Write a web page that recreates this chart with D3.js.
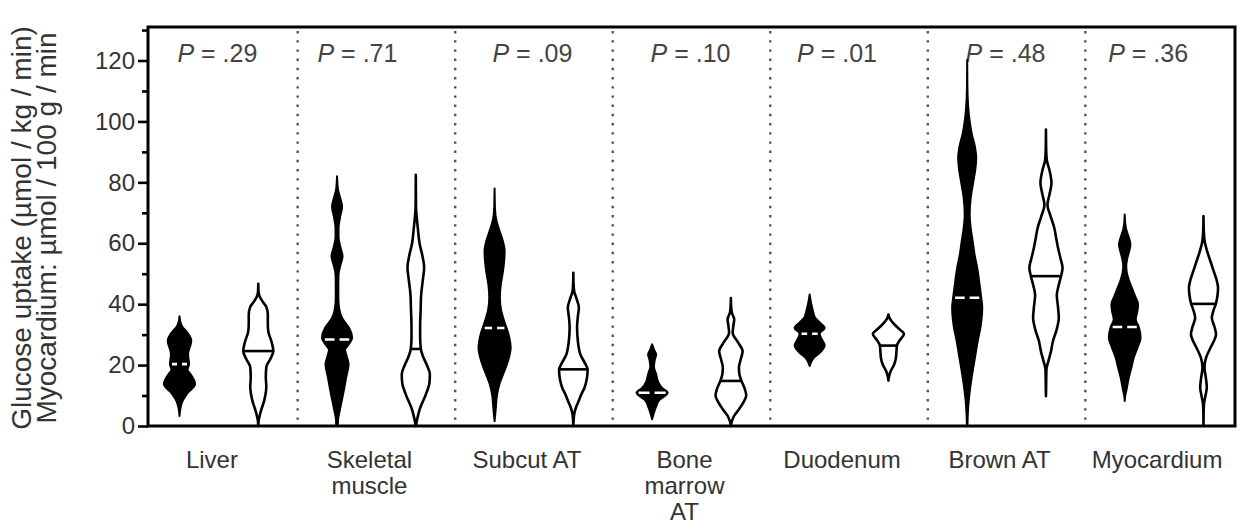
<!DOCTYPE html>
<html>
<head>
<meta charset="utf-8">
<script src="https://cdn.jsdelivr.net/npm/d3@7/dist/d3.min.js"></script>
<style>
    body { margin: 0; background: #ffffff; }
    svg text { font-family: "Liberation Sans", Arial, sans-serif; }
</style>
</head>
<body>
<svg id="my_svg_element" width="1238" height="527"></svg>

<script>
// ---------------------------  DATA  ---------------------------

const organs = ["Liver", "Skeletal muscle", "Subcut AT", "Bone marrow AT", "Duodenum", "Brown AT", "Myocardium"];
const p_values = [".29", ".71", ".09", ".10", ".01", ".48", ".36"];
const series = ["filled", "open"];

// medians (µmol / kg / min)
const medians_filled = [20.3, 28.4, 32.2, 10.9, 30.3, 42.1, 32.5];
const medians_open   = [24.6, 25.3, 18.6, 14.8, 26.4, 49.2, 40.1];

// violin outlines: [uptake value, relative density]
const density_filled = [
    [[3.3,0],[6,1],[8.2,3],[10.4,7],[13.8,15.5],[17,11],[18.5,8],[20.3,9.5],[23.6,8.5],[28,11.7],[31,7],[32.5,3],[34,1],[36,0]],
    [[0,0.8],[2,1],[5.6,3],[10.4,6],[15.8,9],[20.2,11.5],[23,9.5],[25,8],[27,12],[29,15],[32.2,12],[34,8],[35.5,5],[38.8,2],[42,1.3],[46,1.3],[49.7,1.5],[53,3.5],[55.7,5.5],[58.5,3.5],[62,1.5],[65,1.5],[68.5,3],[72.1,5],[75,3],[77.5,1],[80,0.3],[82,0]],
    [[1.6,0],[5,1],[10.4,2.5],[14,5],[17,8.5],[21,13],[25.7,16],[30,14],[34,10],[38,6.5],[42,5.3],[46,6],[50,8],[54,9.5],[57.4,10],[61,8],[65,4],[68,1.5],[71,0.5],[78,0]],
    [[2.2,0],[4,1.5],[6,3.5],[8.5,7],[10.9,15.5],[12.5,10],[14.5,6],[17,4],[19.5,1.8],[21.5,2.5],[23.5,4],[25,2],[26.8,0]],
    [[19.7,0],[21,1.5],[22.4,4],[24,10],[26.5,15],[28.5,12],[30.3,10],[32.2,15],[34,10],[35.5,5.5],[37.5,3.5],[39.5,2],[41.5,0.8],[43.2,0]],
    [[0,0.3],[3,0.5],[8.2,1.5],[12.5,3],[17,5],[22,7.5],[27.9,10.5],[33,13.5],[38.8,15],[42.1,14],[46,12.5],[51.9,10],[56,7.5],[60.6,5.5],[65,3.5],[69.4,2.5],[74.9,3.5],[80,6],[84,8],[88,9],[92,7.5],[96,4.5],[100,2.5],[104,1.2],[107,0.6],[112,0.2],[120.2,0]],
    [[8.2,0],[10,0.5],[11.5,1.5],[15.8,4],[19,6.5],[22.4,9],[26,13],[29,15.8],[32.5,14],[35,11],[37.5,12.5],[39.9,13.3],[42.5,10.5],[45.4,7],[48,4],[50.5,2],[52.5,1.5],[55,2.5],[57.5,4.5],[59.6,5.7],[62,4],[64.5,1.5],[66.5,0.5],[69.4,0]]
];

const density_open = [
    [[0,0],[2,0.5],[4.2,2],[8.5,6],[12.9,8],[16,7.5],[19.4,8],[22,12],[24.6,15],[27.9,13],[31,10],[33.6,9.5],[36.5,9.5],[39.1,8],[41,4],[42.4,1.5],[44,0.3],[46.7,0]],
    [[0,0],[2.5,1.5],[5.6,4],[10.4,10],[14,13.5],[17,14],[20,11],[23,7],[25.3,5],[29,4.3],[33,4.3],[38,4.8],[43,5.3],[48,7],[52,8.3],[56,6.5],[60,3.7],[65,2],[69,0.8],[72,0.2],[82.5,0]],
    [[0,0],[2,0.3],[3.8,0.8],[6,2.5],[8,5],[10.4,8],[12.5,11],[14.8,13],[17,14],[18.6,14.2],[20,12.5],[23.5,7],[27.9,4.5],[32.3,3.7],[36,4.5],[38.9,5.5],[41.5,3.5],[44.3,0.8],[47,0.2],[50.3,0]],
    [[0,0],[1.6,1],[3.5,3.5],[5,7],[7.5,12],[10,15.3],[12.5,13.5],[14.8,10.5],[17,8.5],[19.2,8],[21.5,9.5],[24.6,11.7],[27.5,7],[30.6,1.8],[33,2.5],[35,3.3],[37.2,1],[39,0.3],[42,0]],
    [[14.9,0],[16.5,0.8],[18.2,2.5],[20,5.5],[22.4,7.5],[24.5,8],[26.4,8.5],[28,11],[30.3,15.5],[31.5,12],[33,7],[34.5,3],[35.5,1],[36.6,0]],
    [[9.8,0],[14,0.2],[18.6,0.5],[21.4,2.5],[24.5,5],[27.9,7],[31.5,10.5],[35.5,12.8],[39,12],[43,10.8],[46,12.5],[49.2,15],[51.9,16.5],[55,14.5],[58.5,12],[62,10],[65,8.3],[69,4.5],[72.6,1.5],[76,3.5],[79.8,5.5],[84,3.5],[87.4,0.8],[91,0.2],[97.3,0]],
    [[0,0],[4,0.1],[7.2,0.5],[10,2],[12.6,3.3],[15.5,2.5],[19.2,1],[22.4,2.5],[25.7,7],[28,10.5],[30.1,12.5],[32.5,11],[35.5,8.3],[38,10],[40.1,12.3],[43,14],[45.4,14.5],[48,13],[51,10],[54,7],[57,4],[60.6,1.2],[64,0.3],[68.9,0]]
];

const major_ticks = [0, 20, 40, 60, 80, 100, 120];
const minor_ticks = [10, 30, 50, 70, 90, 110, 130];

// where GraphPad put each "P = " label, relative to the organ centre (px)
const p_label_shift = [-1.5, -19, -1.5, -1, -12, -1, -16];

// ---------------------------  LAYOUT  ---------------------------

const margins = { left: 148, right: 3, top: 27, bottom: 101 };
const outer_width = 1238, outer_height = 527;
const width = outer_width - margins.left - margins.right;
const height = outer_height - margins.top - margins.bottom;

const table = organs.map((organ, i) => ({
    organ: organ,
    p: p_values[i],
    shift: p_label_shift[i],
    violins: [
        { series: "filled", profile: density_filled[i], median: medians_filled[i] },
        { series: "open",   profile: density_open[i],   median: medians_open[i] }
    ]
}));

// ---------------------------  SCALES  ---------------------------

const x_group = d3.scalePoint()
    .domain(organs)
    .range([0, width])
    .padding(0.45);

const x_series = d3.scalePoint()
    .domain(series)
    .range([-x_group.step() / 4, x_group.step() / 4]);

const y_scale = d3.scaleLinear()
    .domain([0, 131])
    .range([height, 0]);

// density -> half width in px
const w_scale = d3.scaleLinear()
    .domain([0, 16])
    .range([0, x_group.step() * 0.102]);

// linear lookup of the outline at a given value
function density_at(profile, v) {
    const i = d3.bisector(d => d[0]).left(profile, v);
    if (i <= 0) return profile[0][1];
    if (i >= profile.length) return profile[profile.length - 1][1];
    const a = profile[i - 1], b = profile[i];
    return a[1] + (v - a[0]) / (b[0] - a[0]) * (b[1] - a[1]);
}

const violin_area = d3.area()
    .y(d => y_scale(d[0]))
    .x0(d => -w_scale(d[1]))
    .x1(d => w_scale(d[1]))
    .curve(d3.curveMonotoneY);

// ---------------------------  DRAW  ---------------------------

const svg = d3.select("#my_svg_element");
const chart = svg.append("g")
    .attr("transform", `translate(${margins.left},${margins.top})`);

// dotted separators between organs
chart.selectAll(".sep")
    .data(organs.slice(1))
    .join("line")
    .attr("class", "sep")
    .attr("x1", d => x_group(d) - x_group.step() / 2)
    .attr("x2", d => x_group(d) - x_group.step() / 2)
    .attr("y1", 4)
    .attr("y2", height)
    .attr("stroke", "#555")
    .attr("stroke-width", 2.4)
    .attr("stroke-dasharray", "2.4 6.8");

// P labels
chart.selectAll(".p-label")
    .data(table)
    .join("text")
    .attr("class", "p-label")
    .attr("x", d => x_group(d.organ) + d.shift)
    .attr("y", 35)
    .attr("text-anchor", "middle")
    .attr("font-size", 25)
    .attr("fill", "#444")
    .each(function(d) {
        const t = d3.select(this);
        t.append("tspan").attr("font-style", "italic").text("P");
        t.append("tspan").text(" = " + d.p);
    });

// violins
const groups = chart.selectAll(".organ")
    .data(table)
    .join("g")
    .attr("class", "organ")
    .attr("transform", d => `translate(${x_group(d.organ)},0)`);

const violins = groups.selectAll(".violin")
    .data(d => d.violins)
    .join("g")
    .attr("class", "violin")
    .attr("transform", d => `translate(${x_series(d.series)},0)`);

violins.append("path")
    .attr("d", d => violin_area(d.profile))
    .attr("fill", d => d.series === "filled" ? "#000" : "#fff")
    .attr("stroke", "#000")
    .attr("stroke-width", d => d.series === "filled" ? 2 : 2.6)
    .attr("stroke-linejoin", "round");

// median lines: white dashed on filled violins, solid black on open ones
violins.append("line")
    .each(function(d) {
        const hw = w_scale(density_at(d.profile, d.median));
        const len = d.series === "filled" ? 2 * hw - 4 : 2 * hw;
        const line = d3.select(this)
            .attr("x1", -len / 2)
            .attr("x2", len / 2)
            .attr("y1", y_scale(d.median))
            .attr("y2", y_scale(d.median))
            .attr("stroke", d.series === "filled" ? "#fff" : "#000")
            .attr("stroke-width", 2.6);
        if (d.series === "filled") {
            const gap = 5;
            line.attr("stroke-dasharray", `${(len - gap) / 2} ${gap}`);
        }
    });

// Y axis ticks (major + minor)
const y_axis = chart.append("g")
    .call(d3.axisLeft(y_scale).tickValues(major_ticks).tickSize(10).tickPadding(3).tickFormat(d3.format("d")));
chart.append("g")
    .call(d3.axisLeft(y_scale).tickValues(minor_ticks).tickSize(6).tickFormat(""))
    .call(g => g.select(".domain").remove());

y_axis.select(".domain").remove();
chart.selectAll(".tick line").attr("stroke", "#000").attr("stroke-width", 2.6);
y_axis.selectAll(".tick text")
    .attr("font-size", 24)
    .attr("fill", "#333")
    .attr("font-family", "Liberation Sans, Arial, sans-serif");

// frame
chart.append("rect")
    .attr("x", 0)
    .attr("y", 0)
    .attr("width", width)
    .attr("height", height)
    .attr("fill", "none")
    .attr("stroke", "#000")
    .attr("stroke-width", 3);

// organ labels (split on the words the figure wraps)
const label_lines = {
    "Skeletal muscle": ["Skeletal", "muscle"],
    "Bone marrow AT": ["Bone", "marrow", "AT"]
};
chart.selectAll(".organ-label")
    .data(organs)
    .join("text")
    .attr("class", "organ-label")
    .attr("text-anchor", "middle")
    .attr("font-size", 24)
    .attr("fill", "#333")
    .attr("y", height + 42)
    .each(function(d) {
        const lines = label_lines[d] || [d];
        const t = d3.select(this);
        lines.forEach((ln, i) => {
            t.append("tspan")
                .attr("x", x_group(d) - 7)
                .attr("dy", i === 0 ? 0 : 26)
                .text(ln);
        });
    });

// Y axis title
const title_lines = ["Glucose uptake (µmol / kg / min)", "Myocardium: µmol / 100 g / min"];
svg.selectAll(".y-title")
    .data(title_lines)
    .join("text")
    .attr("class", "y-title")
    .attr("transform", (d, i) => `translate(${31 + i * 25},${margins.top + 201}) rotate(-90)`)
    .attr("text-anchor", "middle")
    .attr("font-size", 28)
    .attr("fill", "#333")
    .text(d => d);
</script>
</body>
</html>
